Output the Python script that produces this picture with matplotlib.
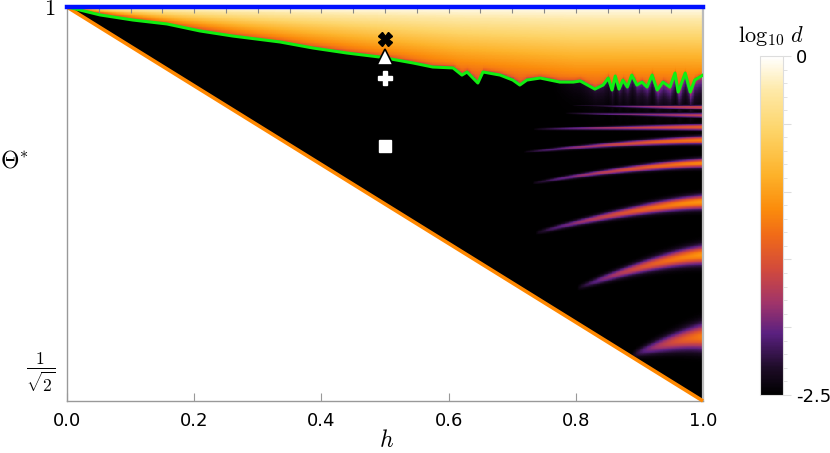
import numpy as np
import matplotlib.pyplot as plt
from matplotlib.colors import LinearSegmentedColormap
from matplotlib.ticker import MultipleLocator, FixedLocator, FuncFormatter
from matplotlib.transforms import ScaledTranslation

plt.rcParams['mathtext.fontset'] = 'cm'
plt.rcParams['axes.unicode_minus'] = False

theta_min = 1 / np.sqrt(2)

# green boundary
h_green = [0.000, 0.020, 0.052, 0.104, 0.157, 0.209, 0.261, 0.335, 0.387, 0.440,
           0.492, 0.544, 0.575, 0.607, 0.621, 0.629, 0.646, 0.654, 0.681, 0.701,
           0.712, 0.723, 0.744, 0.775, 0.796, 0.807, 0.830, 0.843, 0.851, 0.857,
           0.862, 0.868, 0.874, 0.881, 0.888, 0.896, 0.904, 0.912, 0.920, 0.928,
           0.937, 0.948, 0.956, 0.961, 0.972, 0.980, 0.987, 1.000]
theta_green = [1.0000, 0.9978, 0.9941, 0.9903, 0.9874, 0.9822, 0.9784, 0.9740, 0.9695, 0.9658,
               0.9628, 0.9584, 0.9554, 0.9547, 0.9494, 0.9517, 0.9435, 0.9517, 0.9494, 0.9457,
               0.9420, 0.9457, 0.9472, 0.9442, 0.9442, 0.9450, 0.9390, 0.9420, 0.9472, 0.9383,
               0.9487, 0.9390, 0.9457, 0.9405, 0.9494, 0.9420, 0.9442, 0.9405, 0.9494, 0.9383,
               0.9442, 0.9405, 0.9509, 0.9368, 0.9509, 0.9368, 0.9457, 0.9494]

# smooth edge of the bright region (for its colour gradient)
h_edge = [0.0, 0.5, 0.62, 0.8, 1.0]
theta_edge = [1.0, 0.9628, 0.9530, 0.9445, 0.9435]

# orange boundary and blue top line
h_lower = [0.0, 1.0]
theta_lower = [1.0, theta_min]
theta_top = 1.0

# colour in upper region: value at top and next to green line
top_value = -0.05
edge_value = -1.3

# bright stripes in the black region
stripe_h_tip = [0.888, 0.802, 0.736, 0.731, 0.717, 0.733, 0.783, 0.794]
stripe_theta_tip = [0.7413, 0.7911, 0.8320, 0.8692, 0.8922, 0.9093, 0.9212, 0.9271]
stripe_theta_right = [0.7547, 0.8156, 0.8550, 0.8840, 0.9011, 0.9108, 0.9197, 0.9257]
stripe_halfwidth = [0.0090, 0.0065, 0.0048, 0.0032, 0.0027, 0.0020, 0.0016, 0.0016]
stripe_peak = [1.3, 1.45, 1.45, 1.35, 1.3, 1.15, 0.9, 0.9]

# markers at h = 0.5
marker_h = 0.5
theta_x = 0.9762
theta_triangle = 0.9628
theta_plus = 0.9472
theta_square = 0.8967

# colour scale (black - purple - red - orange - yellow - white)
cmap_pos = [0.0, 0.08, 0.18, 0.27, 0.37, 0.47, 0.55, 0.65, 0.78, 0.9, 1.0]
cmap_col = ['#000000', '#1e0c28', '#5a2080', '#a0346a', '#d24a3c', '#f06a18',
            '#fb8c0c', '#fdb22a', '#fdd468', '#fee9a8', '#ffffff']

# ---- build the field
h = np.linspace(0, 1, 800)
th = np.linspace(theta_min, 1, 520)
H, T = np.meshgrid(h, th)
G = np.interp(H, h_green, theta_green)
E = np.interp(H, h_edge, theta_edge)
L = np.interp(H, h_lower, theta_lower)

field = np.full(H.shape, -3.0)
t = np.clip((1 - T) / np.maximum(1 - E, 1e-4), 0, 1.1)
upper = top_value + (edge_value - top_value) * t
upper = upper - 1.0 * np.exp(-np.clip(T - G, 0, None) / 0.0012) * np.clip(H / 0.6, 0, 1)
above = T >= G
field[above] = upper[above]

below = ~above
for ht, tt, tr, hw, pk in zip(stripe_h_tip, stripe_theta_tip, stripe_theta_right,
                              stripe_halfwidth, stripe_peak):
    s = np.clip((H - ht) / (1 - ht), 0, 1)
    tc = tr + (tt - tr) * (1 - s) ** 1.4
    w = hw * (0.3 + 0.7 * s)
    v = -2.5 + pk * s ** 0.6 * np.exp(-((T - tc) / w) ** 2)
    v[H < ht] = -3
    field[below] = np.maximum(field[below], v[below])

haze = -2.5 + 0.8 * np.clip((H - 0.76) / 0.2, 0, 1) * np.exp(-np.clip(G - T, 0, None) / 0.009)
field[below] = np.maximum(field[below], haze[below])

field[T < L] = np.nan

cmap = LinearSegmentedColormap.from_list('sunset', list(zip(cmap_pos, cmap_col)))
cmap.set_bad('white')

fig = plt.figure(figsize=(8.3, 4.53), dpi=100)
ax = fig.add_axes([67 / 830, 1 - 401 / 453, 636 / 830, 394 / 453])
im = ax.imshow(field, origin='lower', extent=[0, 1, theta_min, 1], aspect='auto',
               cmap=cmap, vmin=-2.5, vmax=0, interpolation='nearest')

ax.plot(h_lower, theta_lower, color='#ff8800', lw=2.6, solid_capstyle='butt', clip_on=False, zorder=3)
ax.plot(h_green, theta_green, color='#11ee11', lw=2.2, zorder=3)
ax.axhline(theta_top, color='#0010ff', lw=3.2, clip_on=False, zorder=4)

ax.plot(marker_h, theta_x, marker='X', ms=10, color='black', mec='black', zorder=5)
ax.plot(marker_h, theta_triangle, marker='^', ms=11, color='white', mec='black', mew=1.2, zorder=5)
ax.plot(marker_h, theta_plus, marker='P', ms=10, color='white', mec='white', zorder=5)
ax.plot(marker_h, theta_square, marker='s', ms=9, color='white', mec='white', zorder=5)

ax.set_xlim(0, 1)
ax.set_ylim(theta_min, 1)
ax.set_xticks([0, 0.2, 0.4, 0.6, 0.8, 1.0])
ax.set_xticklabels(['0.0', '0.2', '0.4', '0.6', '0.8', '1.0'], fontsize=13)
ax.tick_params(axis='x', direction='in', length=6, color='#999999', pad=8)
ax.set_yticks([theta_min, 1])
ax.set_yticklabels([r'$\frac{1}{\sqrt{2}}$', r'$1$'])
ax.tick_params(axis='y', length=0, pad=8)
ylabs = ax.get_yticklabels()
ylabs[0].set_fontsize(18)
ylabs[0].set_verticalalignment('bottom')
ylabs[0].set_transform(ylabs[0].get_transform() + ScaledTranslation(0, 5 / 72, fig.dpi_scale_trans))
ylabs[1].set_fontsize(16)
ax.set_xlabel(r'$h$', fontsize=17)
ax.set_ylabel(r'$\Theta^{*}$', fontsize=17, rotation=0)
ax.yaxis.set_label_coords(-0.083, 0.58)
ax.xaxis.set_label_coords(0.503, -0.068)

for side in ['left', 'bottom']:
    ax.spines[side].set_color('#999999')
    ax.spines[side].set_linewidth(1.0)
ax.spines['right'].set_color('#bbbbbb')
ax.spines['right'].set_linewidth(1.6)
ax.spines['top'].set_visible(False)

secax = ax.secondary_xaxis('top')
secax.set_xticks(np.arange(0.05, 1.0, 0.05))
secax.tick_params(direction='in', length=4, color='#888888', labeltop=False)
secax.spines['top'].set_visible(False)

cax = fig.add_axes([760 / 830, 1 - 395 / 453, 23 / 830, 339 / 453])
cb = fig.colorbar(im, cax=cax)
cb.outline.set_edgecolor('#dddddd')
cax.yaxis.set_major_locator(FixedLocator([-2.5, -2.0, -1.5, -1.0, -0.5, 0.0]))
cax.yaxis.set_major_formatter(FuncFormatter(lambda v, p: {-2.5: '-2.5', 0.0: '0'}.get(round(v, 2), '')))
cax.yaxis.set_minor_locator(MultipleLocator(0.1))
cax.tick_params(which='major', length=6, color='#dddddd', labelsize=13)
cax.tick_params(which='minor', length=3, color='#dddddd')
cax.set_title(r'$\log_{10}\,d$', fontsize=16, pad=10)

fig.savefig('out.png', dpi=100)
